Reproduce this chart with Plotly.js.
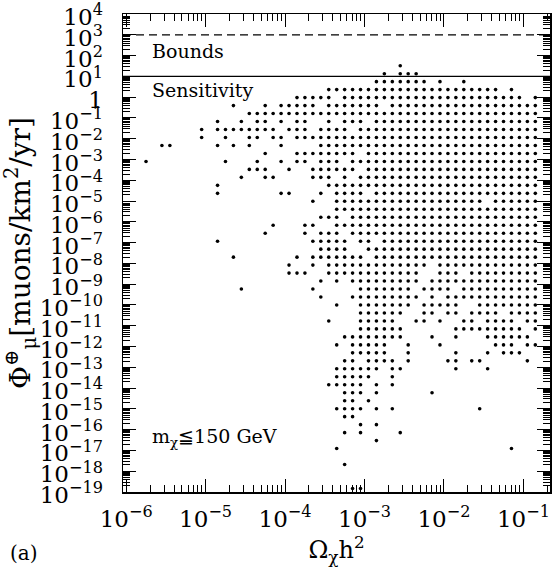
<!DOCTYPE html>
<html><head><meta charset="utf-8">
<script src="https://cdn.plot.ly/plotly-3.0.1.min.js"></script>
<style>html,body{margin:0;padding:0;background:#fff}</style>
</head><body><div id="chart" style="width:558px;height:568px"></div>
<script>
// Column values of Omega_chi h^2 (grid of the scan)
const omegaCols = [1.778e-6, 2.239e-6, 2.818e-6, 3.548e-6, 4.467e-6, 5.623e-6, 7.079e-6, 8.913e-6,
  1.122e-5, 1.413e-5, 1.778e-5, 2.239e-5, 2.818e-5, 3.548e-5, 4.467e-5, 5.623e-5, 7.079e-5, 8.913e-5,
  1.122e-4, 1.413e-4, 1.778e-4, 2.239e-4, 2.818e-4, 3.548e-4, 4.467e-4, 5.623e-4, 7.079e-4, 8.913e-4,
  1.122e-3, 1.413e-3, 1.778e-3, 2.239e-3, 2.818e-3, 3.548e-3, 4.467e-3, 5.623e-3, 7.079e-3, 8.913e-3,
  1.122e-2, 1.413e-2, 1.778e-2, 2.239e-2, 2.818e-2, 3.548e-2, 4.467e-2, 5.623e-2, 7.079e-2, 8.913e-2,
  1.122e-1, 1.413e-1];
// Row values of the muon flux (muons/km^2/yr)
const fluxRows = [32.5, 13.4, 5.55, 2.30, 0.948, 0.392, 0.162, 0.0668, 0.0277, 0.01143,
  4.72e-3, 1.95e-3, 8.05e-4, 3.33e-4, 1.38e-4, 5.69e-5, 2.35e-5, 9.70e-6, 4.02e-6, 1.66e-6,
  6.85e-7, 2.83e-7, 1.17e-7, 4.84e-8, 2.00e-8, 8.26e-9, 3.41e-9, 1.41e-9, 5.83e-10, 2.41e-10,
  9.95e-11, 4.11e-11, 1.70e-11, 7.03e-12, 2.90e-12, 1.20e-12, 4.95e-13, 2.05e-13, 8.47e-14, 3.50e-14,
  1.45e-14, 5.97e-15, 2.47e-15, 1.02e-15, 4.22e-16, 1.74e-16, 7.19e-17, 2.97e-17, 1.23e-17, 5.08e-18,
  2.10e-18, 8.67e-19, 3.58e-19, 1.48e-19];
// Which columns carry a model point in each row ('#' = point)
const E = "..........", F = "##########";
const rowHits = [
  E+E+E+"..#......."+E,
  E+E+E+"#.###....."+E,
  E+E+".........#"+"######.#.."+"#.........",
  E+E+"...#######"+F+"#####.#...",
  E+".........#"+"####.#####"+F+"########.#",
  E+".#...#.###"+"##.#######"+".#########"+F,
  E+"...#######"+F+F+F,
  ".........#"+"..#.##.#.#"+"#..#.###.#"+F+F,
  ".......#.#"+"#######.##"+"#.####.###"+F+F,
  ".......#.."+"#..##.##.#"+F+F+F,
  "..##.....#"+".#.#...#.."+"..########"+F+F,
  E+".....#...#"+"#######.##"+F+F,
  "#........."+"#...#..#.#"+"#.###.####"+F+F,
  E+"...###..#."+".######.##"+F+F,
  E+"..#..##..."+".###.#.###"+F+F,
  ".........#"+E+"...#######"+F+F,
  ".........#"+".......##."+"..#.####.#"+F+F,
  E+E+".#..######"+F+"###.######",
  E+E+"....######"+F+F,
  E+E+"..###.####"+F+F,
  E+"......#..."+"##..######"+F+F,
  E+".....#...."+"#.###.####"+F+F,
  ".........#"+E+".#####.##."+F+F,
  E+E+"..####..##"+F+F,
  E+".#.......#"+".#######.#"+F+F,
  E+"........#."+".#.#######"+"######.###"+F,
  E+"........##"+"#..#######"+"#####..###"+".#########",
  E+E+"..#.#.####"+"#####.####"+F,
  E+"..#......."+".#.....###"+"####.####."+F,
  E+E+"..#...####"+"#####.#.##"+F,
  E+E+"....#..###"+"####.#####"+"..########",
  E+E+".......###"+"###..##.##"+".####.####",
  E+E+"...#...###"+"##..##.#.."+"##.####.##",
  E+E+".......###"+"###......#"+"########.#",
  E+E+".....#####"+"###...#..#"+"...######.",
  E+E+"....#.####"+"#..#...#.."+"....###.##",
  E+E+"......####"+"#..#.....#"+"...#.###..",
  E+E+".....##.##"+"##.#....##"+".##.....#.",
  E+E+"....######"+".##......#"+"...#......",
  E+E+"....#####."+".#........"+E,
  E+E+"...#####.#"+".#........"+E,
  E+E+".....###.#"+"......#..."+E,
  E+E+".....##.#."+E+E,
  E+E+"....####.#"+".#........"+"..#.......",
  E+E+".....##..."+E+E,
  E+E+".......#.#"+E+E,
  E+E+".....#.#.."+"..#......."+E,
  E+E+".........#"+E+E,
  E+E+"....#....."+E+"......#...",
  E+E+E+E+E,
  E+E+".....#...."+E+E,
  E+E+E+E+E,
  E+E+E+E+E,
  E+E+"......##.."+E+E
];
const boundsLevel = 1e3;
const sensitivityLevel = 1e1;
const xTickVals = [1e-6, 1e-5, 1e-4, 1e-3, 1e-2, 1e-1];
const xTickText = ["10<sup>−6</sup>", "10<sup>−5</sup>", "10<sup>−4</sup>", "10<sup>−3</sup>", "10<sup>−2</sup>", "10<sup>−1</sup>"];
const yTickVals = [1e4,1e3,1e2,1e1,1,1e-1,1e-2,1e-3,1e-4,1e-5,1e-6,1e-7,1e-8,1e-9,1e-10,1e-11,1e-12,1e-13,1e-14,1e-15,1e-16,1e-17,1e-18,1e-19];
const yTickText = ["10<sup>4</sup>","10<sup>3</sup>","10<sup>2</sup>","10<sup>1</sup>","1",
  "10<sup>−1</sup>","10<sup>−2</sup>","10<sup>−3</sup>","10<sup>−4</sup>","10<sup>−5</sup>","10<sup>−6</sup>",
  "10<sup>−7</sup>","10<sup>−8</sup>","10<sup>−9</sup>","10<sup>−10</sup>","10<sup>−11</sup>","10<sup>−12</sup>",
  "10<sup>−13</sup>","10<sup>−14</sup>","10<sup>−15</sup>","10<sup>−16</sup>","10<sup>−17</sup>","10<sup>−18</sup>","10<sup>−19</sup>"];

const xs = [], ys = [];
rowHits.forEach((row, j) => {
  for (let k = 0; k < row.length; k++) {
    if (row[k] === '#') { xs.push(omegaCols[k]); ys.push(fluxRows[j]); }
  }
});

// minor tick positions (2..9 inside each decade) for the log axes
function minorVals(p0, p1) {
  const v = [];
  for (let p = p0; p < p1; p++) for (let d = 2; d <= 9; d++) v.push(d * Math.pow(10, p));
  return v;
}

const FONT = 'DejaVu Serif, serif';
const axisCommon = {
  type: 'log', showline: true, linecolor: '#000', linewidth: 1.5, mirror: 'allticks',
  ticks: 'inside', tickcolor: '#000', tickwidth: 1, showgrid: false, zeroline: false,
  tickmode: 'array', ticklabeloverflow: 'allow',
  tickfont: {family: FONT, size: 23, color: '#000'}
};

const data = [{
  type: 'scatter', mode: 'markers', x: xs, y: ys,
  marker: {color: '#000', size: 3.6, line: {width: 0}},
  cliponaxis: false, hoverinfo: 'x+y'
}];

const layout = {
  width: 558, height: 568,
  margin: {l: 123, r: 8, t: 14, b: 76},
  paper_bgcolor: '#fff', plot_bgcolor: '#fff',
  showlegend: false,
  font: {family: FONT, color: '#000', size: 23},
  xaxis: Object.assign({}, axisCommon, {
    range: [-6.04, -0.665], tickvals: xTickVals, ticktext: xTickText, ticklen: 13, ticklabelstandoff: 6,
    minor: {tickmode: 'array', tickvals: minorVals(-7, 0), ticks: 'inside', ticklen: 7, tickcolor: '#000', tickwidth: 1, showgrid: false},
    title: {text: 'Ω<sub>χ</sub>h<sup>2</sup>', font: {family: FONT, size: 24, color: '#000'}, standoff: 4}
  }),
  yaxis: Object.assign({}, axisCommon, {
    range: [-19, 4], tickvals: yTickVals, ticktext: yTickText, ticklen: 13, ticklabelstandoff: 14, ticklabelshift: 3,
    minor: {tickmode: 'array', tickvals: minorVals(-19, 4), ticks: 'inside', ticklen: 7, tickcolor: '#000', tickwidth: 1, showgrid: false},
    title: {text: 'Φ<sup>⊕</sup><sub>μ</sub>[muons/km<sup>2</sup>/yr]\u00a0\u00a0', font: {family: FONT, size: 28, color: '#000'}, standoff: 6}
  }),
  shapes: [
    {type: 'line', xref: 'paper', x0: 0, x1: 1, yref: 'y', y0: boundsLevel, y1: boundsLevel,
     line: {color: '#000', width: 1.3, dash: '8px,5px'}},
    {type: 'line', xref: 'paper', x0: 0, x1: 1, yref: 'y', y0: sensitivityLevel, y1: sensitivityLevel,
     line: {color: '#000', width: 1.3}}
  ],
  annotations: [
    {text: 'Bounds', xref: 'paper', yref: 'paper', x: 0.063, y: 0.9226, xanchor: 'left', yanchor: 'middle',
     showarrow: false, font: {family: FONT, size: 19, color: '#000'}},
    {text: 'Sensitivity', xref: 'paper', yref: 'paper', x: 0.063, y: 0.841, xanchor: 'left', yanchor: 'middle',
     showarrow: false, font: {family: FONT, size: 19, color: '#000'}},
    {text: 'm<sub>χ</sub>≦150 GeV', xref: 'paper', yref: 'paper', x: 0.063, y: 0.115, xanchor: 'left', yanchor: 'middle',
     showarrow: false, font: {family: FONT, size: 19, color: '#000'}},
    {text: '(a)', xref: 'paper', yref: 'paper', x: -0.27, y: -0.128, xanchor: 'left', yanchor: 'middle',
     showarrow: false, font: {family: FONT, size: 20, color: '#000'}}
  ]
};

Plotly.newPlot('chart', data, layout, {displayModeBar: false, staticPlot: true});
</script>
</body></html>
